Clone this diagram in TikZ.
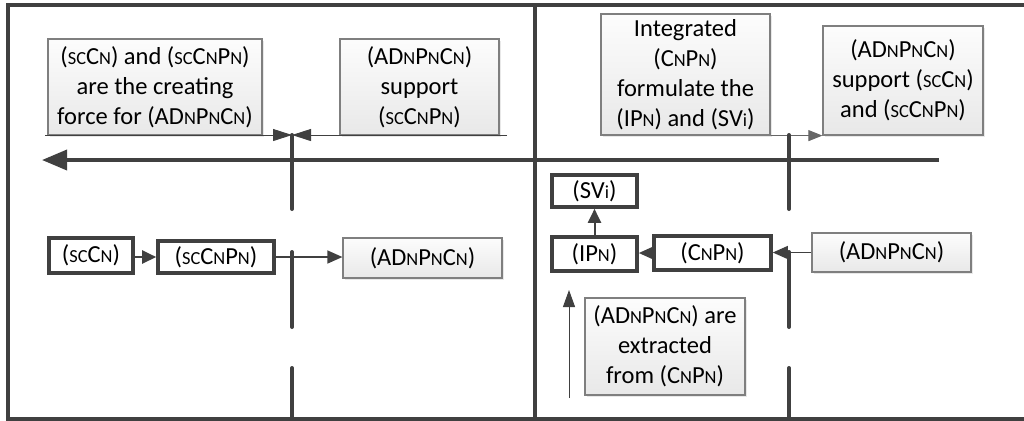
\documentclass[tikz,border=0pt]{standalone}
\usepackage{fontspec}
\setmainfont{Carlito}
\usetikzlibrary{arrows.meta,shadows}
\definecolor{ln}{HTML}{404040}
\definecolor{bd}{HTML}{7F7F7F}
\newcommand\sm[1]{{\fontsize{9.2}{9.2}\selectfont #1}}
\newcommand\scCN{(\sm{SC}C\sm{N})}
\newcommand\scCNPN{(\sm{SC}C\sm{N}P\sm{N})}
\newcommand\ADPC{(AD\sm{N}P\sm{N}C\sm{N})}
\newcommand\CNPN{(C\sm{N}P\sm{N})}
\newcommand\IPN{(IP\sm{N})}
\newcommand\SVi{(SV\sm{i})}
\begin{document}
\begin{tikzpicture}[x=0.5pt,y=-0.5pt,
  txt/.style={font=\fontsize{12.25}{15}\selectfont, align=center, inner sep=0pt},
  gbox/.style={txt, draw=bd, line width=0.6pt, top color=black!1, bottom color=black!9,
    drop shadow={shadow xshift=1.2pt, shadow yshift=-1.2pt, opacity=0.18, fill=black!50}},
  tbox/.style={txt, draw=ln, line width=1.8pt, fill=white},
  frameline/.style={draw=ln, line width=1.8pt},
  dashv/.style={draw=ln, line width=2pt, line cap=round},
  tline/.style={draw=ln!80, line width=0.5pt},
  tipS/.style={-{Triangle[length=7.5pt,width=6.5pt]}},
]
\useasboundingbox (0,0) rectangle (1024,420);

% frame and divider
\coordinate (f1) at (1024,5);
\coordinate (f2) at (8,5);
\coordinate (f3) at (8,419);
\coordinate (f4) at (1024,419);
\draw[frameline] (f1) -- (f2) -- (f3) -- (f4);
\coordinate (dv1) at (535,5);
\coordinate (dv2) at (535,419);
\draw[draw=ln, line width=2pt] (dv1) -- (dv2);

% upper boxes
\node[gbox, minimum width=107pt, minimum height=48pt] (A) at (155,87)
  {\scCN{} and \scCNPN\\are the creating\\force for \ADPC};
\node[gbox, minimum width=79.5pt, minimum height=48pt] (B) at (419.5,87)
  {\ADPC\\support\\\scCNPN};
\node[gbox, minimum width=84.5pt, minimum height=60.5pt] (C) at (685.5,74.5)
  {Integrated\\\CNPN\\formulate the\\\IPN{} and \SVi};
\node[gbox, minimum width=80pt, minimum height=54.5pt] (D) at (903,80.5)
  {\ADPC\\support \scCN\\and \scCNPN};

% timeline thin arrows
\coordinate (tl1) at (45,135);
\coordinate (tm1) at (292,135);
\coordinate (tr1) at (507,135);
\draw[tline, -{Triangle[length=9.5pt,width=6pt]}, ln] (tl1) -- (tm1);
\draw[tline, -{Triangle[length=9.5pt,width=6pt]}, ln] (tr1) -- (tm1);
\draw[tline, -{Triangle[length=7pt,width=5.5pt]}] (C.south east) -- (D.south west);

% main thick arrow
\coordinate (arrS) at (939,160);
\coordinate (arrE) at (42,160);
\draw[draw=ln, line width=1.8pt, -{Triangle[length=12.5pt,width=10pt]}] (arrS) -- (arrE);

% dashed vertical lines
\coordinate (a1) at (292,135); \coordinate (a2) at (292,209);
\coordinate (a3) at (292,252); \coordinate (a4) at (292,327);
\coordinate (a5) at (292,368); \coordinate (a6) at (292,419);
\draw[dashv] (a1) -- (a2);
\draw[dashv] (a3) -- (a4);
\draw[dashv] (a5) -- (a6);
\coordinate (b1) at (789,135); \coordinate (b2) at (789,209);
\coordinate (b3) at (789,252); \coordinate (b4) at (789,327);
\coordinate (b5) at (789,368); \coordinate (b6) at (789,419);
\draw[dashv] (b1) -- (b2);
\draw[dashv] (b3) -- (b4);
\draw[dashv] (b5) -- (b6);

% lower left
\node[tbox, minimum width=42pt, minimum height=17.5pt] (E) at (91,255.5) {\scCN};
\node[tbox, minimum width=58pt, minimum height=16pt] (F) at (216,257) {\scCNPN};
\node[gbox, minimum width=79.5pt, minimum height=20pt] (G) at (422.5,258) {\ADPC};
\draw[draw=ln, line width=1.2pt, -{Triangle[length=7pt,width=6.5pt]}] (E.east |- F.west) -- (F.west);
\draw[draw=ln, line width=0.7pt, tipS] (F.east) -- (F.east -| G.west);

% lower right
\node[tbox, minimum width=42.5pt, minimum height=16pt] (H) at (594.5,191) {\SVi};
\node[tbox, minimum width=42.5pt, minimum height=17pt] (I) at (594.5,254) {\IPN};
\node[tbox, minimum width=58.5pt, minimum height=17pt] (J) at (712.5,253) {\CNPN};
\node[gbox, minimum width=79.5pt, minimum height=19.5pt] (K) at (891.5,252.5) {\ADPC};
\node[gbox, minimum width=80pt, minimum height=48.5pt] (L) at (665,346.5)
  {\ADPC{} are\\extracted\\from \CNPN};
\draw[draw=ln, line width=1pt, -{Triangle[length=7pt,width=6.5pt]}] (I.north) -- (H.south);
\draw[draw=ln, line width=1pt, tipS] (J.west) -- (J.west -| I.east);
\draw[draw=ln, line width=0.6pt, tipS] (K.west) -- (K.west -| J.east);
\coordinate (up1) at (569,398);
\coordinate (up2) at (569,290);
\draw[draw=ln, line width=0.5pt, -{Triangle[length=8.5pt,width=6pt]}] (up1) -- (up2);
\end{tikzpicture}
\end{document}
